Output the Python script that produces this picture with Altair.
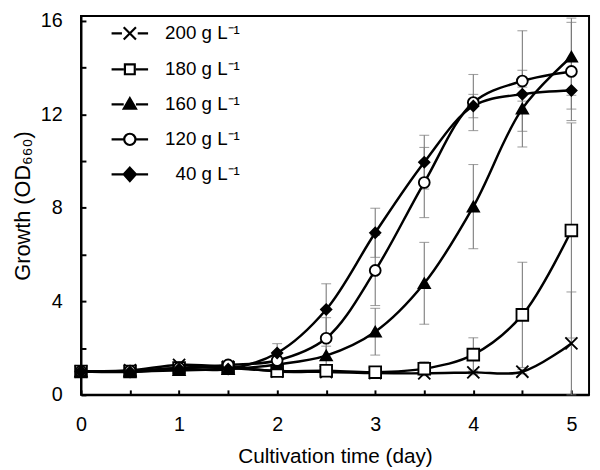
import altair as alt
import pandas as pd

# ---------------- data ----------------
days = [0, 0.5, 1, 1.5, 2, 2.5, 3, 3.5, 4, 4.5, 5]
series_names = ["200 g L\u207b\u00b9", "180 g L\u207b\u00b9", "160 g L\u207b\u00b9",
                "120 g L\u207b\u00b9", "40 g L\u207b\u00b9"]

g200 = [1.00, 1.05, 1.28, 1.20, 1.00, 0.98, 0.93, 0.92, 0.96, 0.99, 2.20]
g180 = [1.00, 1.00, 1.15, 1.15, 1.02, 1.03, 0.97, 1.12, 1.72, 3.42, 7.03]
g160 = [1.00, 1.00, 1.05, 1.10, 1.30, 1.68, 2.70, 4.77, 8.05, 12.24, 14.46]
g120 = [1.00, 1.02, 1.15, 1.28, 1.47, 2.42, 5.32, 9.08, 12.50, 13.42, 13.83]
g40 = [1.00, 0.98, 1.10, 1.10, 1.79, 3.65, 6.93, 9.95, 12.35, 12.86, 13.02]

e200 = [0, 0, 0, 0, 0, 0, 0.05, 0.05, 0.10, 0.10, 2.20]
e180 = [0, 0, 0.05, 0.05, 0.10, 0.10, 0.10, 0.30, 0.72, 2.25, 4.60]
e160 = [0, 0, 0.10, 0.10, 0.20, 0.40, 1.00, 1.75, 1.80, 1.64, 1.65]
e120 = [0, 0, 0.10, 0.10, 0.20, 0.88, 1.50, 1.50, 1.20, 2.15, 2.10]
e40 = [0, 0, 0.10, 0.10, 0.40, 1.10, 1.05, 1.15, 0.50, 0.30, 0.80]

x_tick_values = [0, 0.5, 1, 1.5, 2, 2.5, 3, 3.5, 4, 4.5, 5]
x_label_values = [0, 1, 2, 3, 4, 5]
y_tick_values = [0, 2, 4, 6, 8, 10, 12, 14, 16]
y_label_values = [0, 4, 8, 12, 16]

# ---------------- table ----------------
rows = []
for name, vals, errs in zip(series_names, [g200, g180, g160, g120, g40],
                            [e200, e180, e160, e120, e40]):
    for d, v, e in zip(days, vals, errs):
        rows.append({"series": name, "day": d, "value": v, "err": e,
                     "lo": v - e, "hi": v + e})
df = pd.DataFrame(rows)

FONT = "Liberation Sans"
xs = alt.Scale(domain=[0, 5.18], nice=False, zero=False)
ys = alt.Scale(domain=[0, 16.2], nice=False, zero=False)

X_PATH = "M-1,-1L1,1M-1,1L1,-1"
point_shapes = [X_PATH, "square", "triangle-up", "circle", "diamond"]
point_fills = ["white", "white", "black", "white", "black"]
point_sizes = [150, 110, 175, 150, 190]

leg_line = "M-1.85,0L-0.62,0M0.62,0L1.85,0"
legend_paths = [
    "M-1.85,0L-0.8,0M0.8,0L1.85,0M-0.62,-0.62L0.62,0.62M-0.62,0.62L0.62,-0.62",
    leg_line + "M-0.5,-0.5L0.5,-0.5L0.5,0.5L-0.5,0.5Z",
    leg_line + "M-0.62,0.45L0,-0.62L0.62,0.45Z",
    leg_line + "M-0.57,0A0.57,0.57 0 1,0 0.57,0A0.57,0.57 0 1,0 -0.57,0Z",
    leg_line + "M0,-0.68L0.62,0L0,0.68L-0.62,0Z",
]

ERR_COLOR = "#7a7a7a"
base = alt.Chart(df)

err_rule = base.transform_filter("datum.err > 0").mark_rule(
    color=ERR_COLOR, strokeWidth=1.1
).encode(
    x=alt.X("day:Q", scale=xs, axis=None),
    y=alt.Y("lo:Q", scale=ys, axis=None),
    y2="hi:Q",
)
cap_lo = base.transform_filter("datum.err > 0").mark_tick(
    orient="horizontal", color=ERR_COLOR, size=10, thickness=1.1
).encode(
    x=alt.X("day:Q", scale=xs, axis=None),
    y=alt.Y("lo:Q", scale=ys, axis=None),
)
cap_hi = base.transform_filter("datum.err > 0").mark_tick(
    orient="horizontal", color=ERR_COLOR, size=10, thickness=1.1
).encode(
    x=alt.X("day:Q", scale=xs, axis=None),
    y=alt.Y("hi:Q", scale=ys, axis=None),
)

lines = base.mark_line(interpolate="catmull-rom", color="black", strokeWidth=2.5).encode(
    x=alt.X("day:Q", scale=xs, axis=alt.Axis(
        orient="bottom", values=x_label_values, ticks=False, grid=False,
        domain=True, domainColor="black", domainWidth=2,
        labelFont=FONT, labelFontSize=20, labelColor="black", labelPadding=20,
        labelFlush=False,
        title="Cultivation time (day)", titleFont=FONT, titleFontSize=21,
        titleFontWeight="normal", titleColor="black", titlePadding=12)),
    y=alt.Y("value:Q", scale=ys, axis=alt.Axis(
        orient="left", values=y_label_values, ticks=False, grid=False,
        domain=True, domainColor="black", domainWidth=2,
        labelFont=FONT, labelFontSize=20, labelColor="black", labelPadding=19,
        labelFlush=False,
        title="Growth (OD\u2086\u2086\u2080)", titleFont=FONT, titleFontSize=22,
        titleFontWeight="normal", titleColor="black", titleX=-52,
        titleBaseline="alphabetic")),
    detail="series:N",
    order="day:Q",
)

tick_axes = base.mark_point(opacity=0).encode(
    x=alt.X("day:Q", scale=xs, axis=alt.Axis(
        orient="bottom", offset=-5, values=x_tick_values, ticks=True, tickSize=5,
        tickWidth=2, tickColor="black", labels=False, domain=False, grid=False,
        title=None)),
    y=alt.Y("value:Q", scale=ys, axis=alt.Axis(
        orient="left", offset=-5, values=y_tick_values, ticks=True, tickSize=5,
        tickWidth=2, tickColor="black", labels=False, domain=False, grid=False,
        title=None)),
)

points = base.mark_point(stroke="black", strokeWidth=1.9, opacity=1).encode(
    x=alt.X("day:Q", scale=xs, axis=None),
    y=alt.Y("value:Q", scale=ys, axis=None),
    shape=alt.Shape("series:N", scale=alt.Scale(domain=series_names, range=point_shapes), legend=None),
    fill=alt.Fill("series:N", scale=alt.Scale(domain=series_names, range=point_fills), legend=None),
    size=alt.Size("series:N", scale=alt.Scale(domain=series_names, range=point_sizes), legend=None),
)

leg = alt.Legend(
    orient="none", legendX=38, legendY=6, title=None, padding=0,
    symbolSize=400, symbolStrokeWidth=2.2, symbolStrokeColor="black", symbolOpacity=1,
    labelFont=FONT, labelFontSize=19, labelColor="black", labelOffset=100,
    labelAlign="right", rowPadding=13.5, labelLimit=300,
)
legend_layer = base.transform_filter("datum.day < 0").mark_point(
    stroke="black", strokeWidth=2.2, opacity=1, size=400
).encode(
    x=alt.X("day:Q", scale=xs, axis=None),
    y=alt.Y("value:Q", scale=ys, axis=None),
    shape=alt.Shape("series:N", scale=alt.Scale(domain=series_names, range=legend_paths), legend=leg),
    fill=alt.Fill("series:N", scale=alt.Scale(domain=series_names, range=point_fills), legend=leg),
    stroke=alt.Stroke("series:N", scale=alt.Scale(domain=series_names, range=["black"] * 5), legend=leg),
)

chart = alt.layer(err_rule, cap_lo, cap_hi, lines, tick_axes, points, legend_layer).resolve_scale(
    shape="independent", fill="independent", size="independent", stroke="independent"
).resolve_axis(
    x="independent", y="independent"
).properties(
    width=515, height=384,
    padding={"left": 74, "top": 5, "right": 3, "bottom": 70},
    autosize=alt.AutoSizeParams(type="none"),
    background="white",
).configure_view(stroke="black", strokeWidth=2)

chart.save("out.html", embed_options={"renderer": "svg", "actions": False})
